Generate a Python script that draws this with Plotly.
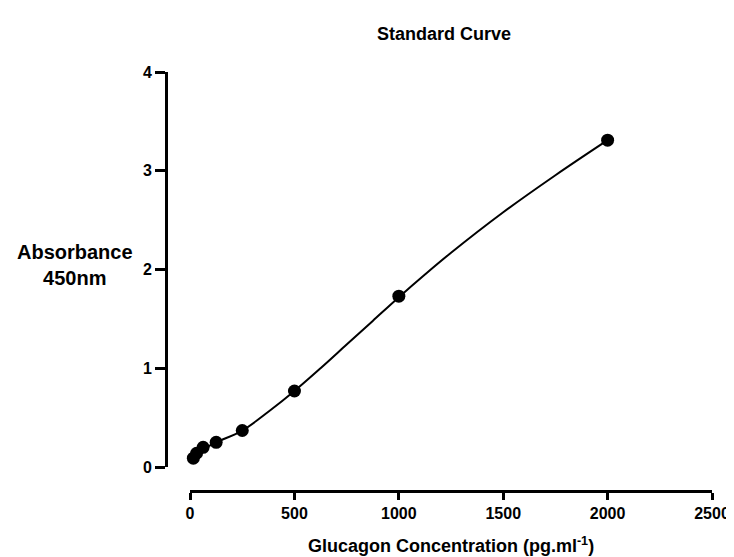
import plotly.graph_objects as go

# Standards (pg/ml) and measured absorbance at 450 nm
conc = [15.6, 31.25, 62.5, 125, 250, 500, 1000, 2000]
absorb = [0.09, 0.14, 0.20, 0.25, 0.37, 0.77, 1.73, 3.31]

# Fitted standard curve
fit_x = [15.6, 62.5, 125, 250, 375, 500, 625, 750, 875, 1000, 1125, 1250, 1500, 1750, 2000]
fit_y = [0.10, 0.18, 0.25, 0.37, 0.56, 0.77, 1.00, 1.24, 1.48, 1.72, 1.95, 2.17, 2.58, 2.955, 3.31]

x_ticks = [0, 500, 1000, 1500, 2000, 2500]
y_ticks = [0, 1, 2, 3, 4]

W, H = 734, 557
left, right, top, bottom = 158.3, 711.7, 64.0, 487.5
x0_px = 182.7
y0_px = 463.3

fig = go.Figure()
fig.add_trace(go.Scatter(x=fit_x, y=fit_y, mode="lines",
                         line=dict(color="black", width=2, shape="spline", smoothing=1.0),
                         hoverinfo="skip", showlegend=False, cliponaxis=False))
fig.add_trace(go.Scatter(x=conc, y=absorb, mode="markers", marker=dict(color="black", size=13),
                         showlegend=False, cliponaxis=False))

font_main = dict(family="Arial, Liberation Sans, sans-serif", color="black", weight="bold")

fig.update_layout(
    width=W, height=H,
    paper_bgcolor="white", plot_bgcolor="white",
    margin=dict(l=left, r=W - right, t=top, b=H - bottom, pad=0),
    font=dict(**font_main, size=16),
    title=dict(text="Standard Curve", x=436 / W, xref="container", xanchor="center",
               y=1 - 26 / H, yref="container", yanchor="middle",
               font=dict(**font_main, size=18)),
    xaxis=dict(range=[0, 2500], domain=[(x0_px - left) / (right - left), 1],
               anchor="free", position=0,
               tickvals=x_ticks, ticks="outside", ticklen=7, tickwidth=3, tickcolor="black",
               showline=True, linewidth=3, linecolor="black", showgrid=False, zeroline=False,
               tickfont=dict(**font_main, size=16),
               title=dict(text="Glucagon Concentration (pg.ml<sup>-1</sup>)", standoff=18,
                          font=dict(**font_main, size=18))),
    yaxis=dict(range=[0, 4], domain=[(bottom - y0_px) / (bottom - top), 1],
               anchor="free", position=0,
               tickvals=y_ticks, ticks="outside", ticklen=10, tickwidth=3, tickcolor="black",
               showline=True, linewidth=3, linecolor="black", showgrid=False, zeroline=False,
               tickfont=dict(**font_main, size=16)),
    annotations=[dict(text="Absorbance<br>450nm", xref="paper", yref="paper",
                      x=(66 - left) / (right - left), y=(bottom - 259) / (bottom - top),
                      xanchor="center", yanchor="middle", showarrow=False, align="center",
                      font=dict(**font_main, size=20))],
)

fig.write_html("out.html")
